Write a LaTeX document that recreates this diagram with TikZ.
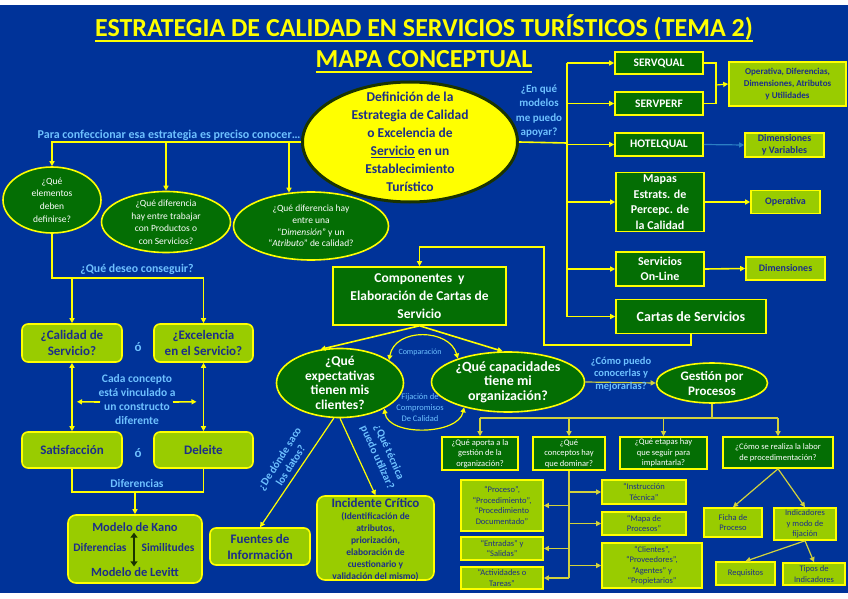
\documentclass[tikz,border=0pt]{standalone}
\usepackage{fontspec}
\setmainfont{Carlito}
\usetikzlibrary{arrows.meta,positioning,calc,shapes.geometric}
\definecolor{bgblue}{HTML}{003399}
\definecolor{yel}{HTML}{FFFF00}
\definecolor{dgreen}{HTML}{046E04}
\definecolor{lgreen}{HTML}{99CC00}
\definecolor{navy}{HTML}{1C2E8A}
\definecolor{lblue}{HTML}{6EC1FF}
\definecolor{olivey}{HTML}{D2D23C}
\definecolor{darkrim}{HTML}{1A3300}
\definecolor{arrowblue}{HTML}{2B7FC4}
\newcommand{\fsz}[2]{\fontsize{#1}{#2}\selectfont}

\begin{document}
\begin{tikzpicture}[x=1pt,y=-1pt,
  >={Triangle[length=5pt,width=5pt]},
  yl/.style={draw=yel,line width=1.6pt},
  ol/.style={draw=olivey,line width=1.2pt},
  gbox/.style={draw=yel,line width=1.6pt,fill=dgreen,text=white,align=center,inner sep=1pt},
  lbox/.style={draw=yel,line width=1.6pt,fill=lgreen,text=navy,align=center,inner sep=1pt},
  gell/.style={ellipse,draw=yel,line width=1.6pt,fill=dgreen,inner sep=0pt},
  txt/.style={align=center,inner sep=0pt},
  lbl/.style={text=lblue,align=center,inner sep=0pt}
]
\useasboundingbox (0,0) rectangle (848,599);
\fill[white] (0,0) rectangle (848,599);
\fill[bgblue] (0,5) rectangle (848,593);

% title
\node[anchor=base,text=yel,font=\bfseries\fsz{26}{30},inner sep=0pt] (tit1) at (424,37) {ESTRATEGIA DE CALIDAD EN SERVICIOS TURÍSTICOS (TEMA 2)};
\node[anchor=base,text=yel,font=\bfseries\fsz{26}{30},inner sep=0pt] (tit2) at (424,68) {MAPA CONCEPTUAL};
\draw[yel,line width=1.6pt] ($(tit1.base west)+(0,4)$) -- ($(tit1.base east)+(0,4)$);
\draw[yel,line width=1.6pt] ($(tit2.base west)+(0,4)$) -- ($(tit2.base east)+(0,4)$);

% central concept
\node[ellipse,draw=darkrim,line width=3pt,fill=yel,minimum width=215pt,minimum height=120pt] (def) at (410,142) {};
\node[txt,text=navy,font=\bfseries\fsz{13.5}{18}] (def-t) at (def) {Definición de la\\Estrategia de Calidad\\o Excelencia de\\\underline{Servicio} en un\\Establecimiento\\Turístico};

% what to know
\node[lbl,font=\bfseries\fsz{12}{13}] (prec) at (169,135) {Para confeccionar esa estrategia es preciso conocer…};
\node[gell,minimum width=98pt,minimum height=66pt] (q1) at (52,200) {};
\node[txt,text=white,font=\fsz{9.5}{12.7}] (q1-t) at (q1) {¿Qué\\elementos\\deben\\definirse?};
\node[gell,minimum width=129pt,minimum height=61pt] (q2) at (166,222) {};
\node[txt,text=white,font=\fsz{9.5}{12.5}] (q2-t) at (q2) {¿Qué diferencia\\hay entre trabajar\\con Productos o\\con Servicios?};
\node[gell,minimum width=155pt,minimum height=68pt] (q3) at (311,226) {};
\node[txt,text=white,font=\fsz{9.5}{11.7}] (q3-t) at (q3) {¿Qué diferencia hay\\entre una\\``\textit{Dimensión}'' y un\\``\textit{Atributo}'' de calidad?};
\coordinate (q3in) at ($(q3.north)+(-22,1.5)$);
\draw[yl,->] (def.west) -| (q1.north);
\draw[yl,->] (q2.north |- def.west) -- (q2.north);
\draw[yl,->] (q3in |- def.west) -- (q3in);

% goal
\node[lbox,rounded corners=6pt,minimum width=100pt,minimum height=38pt,font=\bfseries\fsz{13}{16}] (cal) at (72,343) {¿Calidad de\\Servicio?};
\node[lbox,rounded corners=6pt,minimum width=99pt,minimum height=38pt,font=\bfseries\fsz{13}{16}] (exc) at (203.5,343) {¿Excelencia\\en el Servicio?};
\node[lbl,font=\bfseries\fsz{13}{15}] (or1) at (138,347) {ó};
\node[lbox,rounded corners=6pt,minimum width=100pt,minimum height=36pt,font=\bfseries\fsz{13}{16}] (sat) at (72,450) {Satisfacción};
\node[lbox,rounded corners=6pt,minimum width=99pt,minimum height=36pt,font=\bfseries\fsz{13}{16}] (del) at (203.5,450) {Deleite};
\node[lbl,font=\bfseries\fsz{13}{15}] (or2) at (138,453) {ó};
\coordinate (wish) at (137,278);
\node[lbl,font=\bfseries\fsz{11.8}{13},anchor=base] (wish-t) at (137,272) {¿Qué deseo conseguir?};
\draw[yl,->] (q1.south) |- (wish) -| (exc.north);
\draw[yl,->] (cal.north |- wish) -- (cal.north);
\draw[yl,<->] (cal.south) -- (sat.north);
\draw[yl,<->] (exc.south) -- (del.north);
\node[lbl,font=\bfseries\fsz{11.5}{14}] (link) at (137,400) {Cada concepto\\está vinculado a\\un constructo\\diferente};
\draw[yl,->] ($(link.center)+(-37,2)$) -- ($(cal.south)!0.57!(sat.north)+(5,0)$);
\draw[yl,->] ($(link.center)+(36,2)$) -- ($(exc.south)!0.57!(del.north)+(-7,0)$);

% models
\coordinate (diff) at (135,492);
\node[lbl,font=\bfseries\fsz{11.5}{13},anchor=base] (diff-t) at (137,487) {Diferencias};
\node[lbox,rounded corners=8pt,minimum width=134pt,minimum height=68pt] (kano) at (135,549) {};
\draw[yl] (sat.south) |- (diff) -| (del.south);
\draw[yl,->] (diff) -- (kano.north);
\node[txt,text=navy,font=\bfseries\fsz{12.5}{14}] (kano-a) at (135,527) {Modelo de Kano};
\node[txt,text=navy,font=\bfseries\fsz{12.5}{14}] (kano-b) at (135,572) {Modelo de Levitt};
\node[txt,text=navy,font=\bfseries\fsz{11.5}{14}] (kano-l) at (100,548) {Diferencias};
\node[txt,text=navy,font=\bfseries\fsz{11.5}{14}] (kano-r) at (168,548) {Similitudes};
\draw[draw=darkrim,line width=2.5pt,{Triangle[length=5pt,width=7pt]}-{Triangle[length=5pt,width=7pt]}] ($(kano-a.south)+(-1,1)$) -- ($(kano-b.north)+(-1,-1)$);

% clients and organisation
\node[gbox,minimum width=173pt,minimum height=58pt,font=\bfseries\fsz{13.5}{18}] (comp) at (419.5,296) {Componentes~ y\\Elaboración de Cartas de\\Servicio};
\node[gell,minimum width=127pt,minimum height=69pt] (expe) at (340,383) {};
\node[txt,text=white,font=\bfseries\fsz{13.5}{14.5}] (expe-t) at (expe) {¿Qué\\expectativas\\tienen mis\\clientes?};
\node[gell,minimum width=153pt,minimum height=60pt] (capa) at (508,382) {};
\node[txt,text=white,font=\bfseries\fsz{14}{14.5}] (capa-t) at (capa) {¿Qué capacidades\\tiene mi\\organización?};
\draw[yl,->] (comp.south) -- (expe.120);
\draw[yl,->] (comp.south) -- (capa.100);
\draw[yl,line width=1.2pt,<->] (expe.25) .. controls +(6,-33) and +(-8,-30) .. (capa.155);
\draw[yl,line width=1.2pt,<->] (expe.-30) .. controls +(4,28) and +(-6,28) .. (capa.-150);
\node[lbl,font=\fsz{8}{10}] (cmp-lbl) at (420,352) {Comparación};
\node[lbl,font=\fsz{8.5}{11}] (fix-lbl) at (420,408) {Fijación de\\Compromisos\\De Calidad};

\node[lbox,rounded corners=6pt,minimum width=100pt,minimum height=37pt,font=\bfseries\fsz{13}{16}] (fuen) at (260,546.5) {Fuentes de\\Información};
\node[lbox,rounded corners=8pt,minimum width=117pt,minimum height=84pt] (inci) at (375.5,538) {};
\node[txt,text=navy,font=\bfseries\fsz{13}{14}] (inci-a) at (375.5,503) {Incidente Crítico};
\node[txt,text=navy,font=\bfseries\fsz{9.5}{12}] (inci-b) at (375.5,547) {(Identificación de\\atributos,\\priorización,\\elaboración de\\cuestionario y\\validación del mismo)};
\draw[yl,line width=1.2pt,->] (expe.-100) -- (fuen.north);
\draw[yl,line width=1.2pt,->] (expe.south) -- (inci.north);
\node[lbl,font=\bfseries\fsz{11}{13},rotate=58] (src-lbl) at (285,462) {¿De dónde saco\\los datos?};
\node[lbl,font=\bfseries\fsz{11}{13},rotate=-66] (tec-lbl) at (383,455) {¿Qué técnica\\puedo utilizar?};

% process management
\node[gell,minimum width=111pt,minimum height=40pt] (gest) at (712,383) {};
\node[txt,text=white,font=\bfseries\fsz{13}{15}] (gest-t) at (gest) {Gestión por\\Procesos};
\draw[ol,->] (capa.east) -- (gest.west);
\node[lbl,font=\bfseries\fsz{10.5}{12.5}] (how-lbl) at (621,374) {¿Cómo puedo\\conocerlas y\\mejorarlas?};

\node[gbox,minimum width=76pt,minimum height=33pt,font=\fsz{8.5}{10.5}] (b1) at (480,453.5) {¿Qué aporta a la\\gestión de la\\organización?};
\node[gbox,minimum width=72pt,minimum height=33pt,font=\fsz{8.5}{10.5}] (b2) at (569,453.5) {¿Qué\\conceptos hay\\que dominar?};
\node[gbox,minimum width=87pt,minimum height=32pt,font=\fsz{8.5}{10.5}] (b3) at (663.5,453) {¿Qué etapas hay\\que seguir para\\implantarla?};
\node[gbox,minimum width=110pt,minimum height=31pt,font=\fsz{8.5}{11}] (b4) at (778,452.5) {¿Cómo se realiza la labor\\de procedimentación?};
\coordinate (gp) at (712,418);
\draw[ol] (gest.south) -- (gp);
\draw[ol] (b1.north |- gp) -- (b4.north |- gp);
\foreach \b in {b1,b2,b3,b4}
  \draw[ol,->] (\b.north |- gp) -- (\b.north);

\node[lbox,minimum width=82pt,minimum height=51pt,font=\fsz{8.5}{10.5}] (p1) at (502,505.5) {``Proceso'',\\``Procedimiento'',\\``Procedimiento\\Documentado''};
\node[lbox,minimum width=82pt,minimum height=23pt,font=\fsz{8.5}{10.5}] (p2) at (502,548.5) {``Entradas'' y\\``Salidas''};
\node[lbox,minimum width=82pt,minimum height=22pt,font=\fsz{8.5}{10.5}] (p3) at (502,578) {``Actividades o\\Tareas''};
\node[lbox,minimum width=84pt,minimum height=24pt,font=\fsz{8.5}{10.5}] (r1) at (644,492) {``Instrucción\\Técnica''};
\node[lbox,minimum width=84pt,minimum height=23pt,font=\fsz{8.5}{10.5}] (r2) at (644,523.5) {``Mapa de\\Procesos''};
\node[lbox,minimum width=100pt,minimum height=45pt,font=\fsz{8.5}{10.5}] (r3) at (652,565.5) {``Clientes'',\\``Proveedores'',\\``Agentes'' y\\``Propietarios''};
\coordinate (cb) at (569,578);
\draw[ol] (b2.south) -- (cb);
\foreach \p in {p1,p2,p3}
  \draw[ol,->] (\p.east -| cb) -- (\p.east);
\foreach \r in {r1,r2,r3}
  \draw[ol,->] (\r.west -| cb) -- (\r.west);

\node[lbox,minimum width=58pt,minimum height=29pt,font=\fsz{8.5}{10.5}] (fic) at (733,522.5) {Ficha de\\Proceso};
\node[lbox,minimum width=62pt,minimum height=32pt,font=\fsz{8.5}{10.5}] (ind) at (805,524) {Indicadores\\y modo de\\fijación};
\node[lbox,minimum width=59pt,minimum height=23pt,font=\fsz{8.5}{10.5}] (req) at (745.5,573.5) {Requisitos};
\node[lbox,minimum width=62pt,minimum height=22pt,font=\fsz{8.5}{10.5}] (tipo) at (814,574) {Tipos de\\Indicadores};
\draw[ol,->] (b4.south) -- (fic.north);
\draw[ol,->] (b4.south) -- (ind.north);
\draw[ol,->] (ind.south) -- (req.north);
\draw[ol,->] (ind.south) -- (tipo.north);

% quality models
\node[lbl,font=\bfseries\fsz{11}{14.3}] (mod-lbl) at (539,111) {¿En qué\\modelos\\me puedo\\apoyar?};
\node[gbox,minimum width=88pt,minimum height=22pt,font=\bfseries\fsz{11.5}{13}] (sq) at (659,63) {SERVQUAL};
\node[gbox,minimum width=88pt,minimum height=23pt,font=\bfseries\fsz{11.5}{13}] (sp) at (659,103.5) {SERVPERF};
\node[gbox,minimum width=88pt,minimum height=23pt,font=\bfseries\fsz{11.5}{13}] (hq) at (659,144.5) {HOTELQUAL};
\node[gbox,minimum width=88pt,minimum height=59pt,font=\bfseries\fsz{12}{15.5}] (mp) at (660,202) {Mapas\\Estrats. de\\Percepc. de\\la Calidad};
\node[gbox,minimum width=88pt,minimum height=34pt,font=\bfseries\fsz{12}{15}] (onl) at (660,269) {Servicios\\On-Line};
\node[gbox,minimum width=150pt,minimum height=34pt,font=\bfseries\fsz{14}{16}] (cs) at (691,316.5) {Cartas de Servicios};
\coordinate (trunk) at (567,143);
\draw[yl] (def.east) -- (trunk);
\draw[yl] (sq.west -| trunk) -- (cs.west -| trunk);
\foreach \m in {sq,sp,hq,mp,onl,cs}
  \draw[yl,->] (\m.west -| trunk) -- (\m.west);

\node[lbox,minimum width=117pt,minimum height=44pt,font=\bfseries\fsz{9}{12}] (att) at (787.5,84) {Operativa, Diferencias,\\Dimensiones, Atributos\\y Utilidades};
\node[lbox,minimum width=79pt,minimum height=24pt,font=\bfseries\fsz{10}{12.5}] (dv) at (784.5,145) {Dimensiones\\y Variables};
\node[lbox,minimum width=69pt,minimum height=23pt,font=\bfseries\fsz{10}{12}] (op) at (785.5,202) {Operativa};
\node[lbox,minimum width=79pt,minimum height=23pt,font=\bfseries\fsz{10}{12}] (dim) at (785.5,268.5) {Dimensiones};
\coordinate (mrg) at (716,85);
\draw[yl,line width=1.2pt] (sq.east) -| (mrg) |- (sp.east);
\draw[yl,line width=1.2pt,->] (mrg) -- (att.west);
\draw[arrowblue,line width=1.2pt,->] (hq.east) -- (dv.west);
\draw[yl,->] (mp.east) -- (op.west);
\draw[yl,->] (onl.east) -- (dim.west);

% back to the service charters
\coordinate (back1) at (544,345);
\coordinate (back2) at (544,247);
\draw[yl,->] (cs.south) |- (back1) -- (back2) -| (comp.north);
\end{tikzpicture}
\end{document}
